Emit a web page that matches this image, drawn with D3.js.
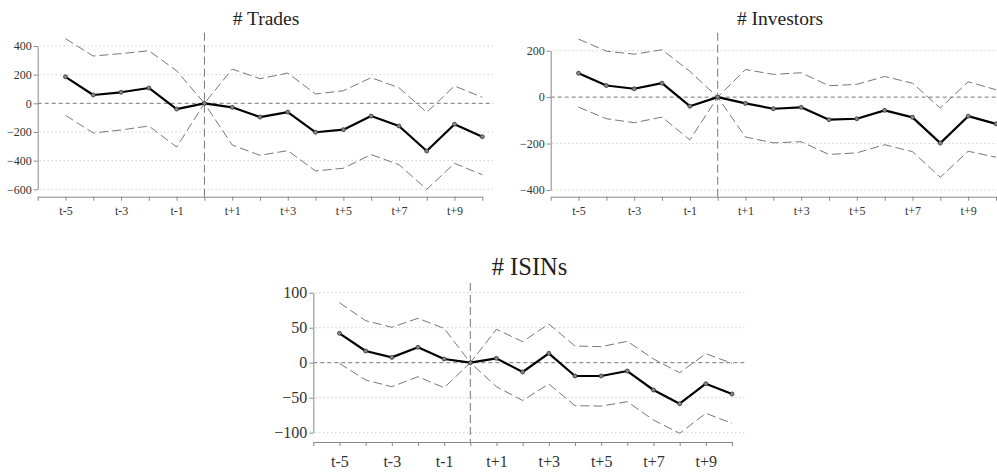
<!DOCTYPE html>
<html>
<head>
<meta charset="utf-8">
<script src="https://cdn.jsdelivr.net/npm/d3@7"></script>
<style>
  body { margin: 0; background: #fff; }
</style>
</head>
<body>
<div id="chart"></div>
<script>
// event time, t-5 .. t+10
const periods = [-5, -4, -3, -2, -1, 0, 1, 2, 3, 4, 5, 6, 7, 8, 9, 10];
const xTickValues = [-6, -5, -4, -3, -2, -1, 0, 1, 2, 3, 4, 5, 6, 7, 8, 9, 10];
const xTickLabels = { "-5": "t-5", "-3": "t-3", "-1": "t-1", "1": "t+1", "3": "t+3", "5": "t+5", "7": "t+7", "9": "t+9" };

// # Trades
const tradesMean  = [185, 58, 77, 107, -40, 0, -28, -96, -61, -202, -184, -89, -158, -333, -146, -233];
const tradesUpper = [451, 330, 347, 367, 227, 0, 239, 172, 211, 65, 88, 179, 109, -63, 121, 42];
const tradesLower = [-84, -207, -186, -158, -305, 0, -291, -363, -330, -472, -453, -358, -428, -600, -419, -498];
const tradesTicks = [400, 200, 0, -200, -400, -600];

// # Investors
const investorsMean  = [103, 50, 36, 60, -39, 0, -27, -50, -44, -97, -93, -57, -87, -198, -82, -115];
const investorsUpper = [250, 198, 185, 204, 111, 0, 119, 98, 105, 49, 55, 89, 60, -47, 66, 32];
const investorsLower = [-43, -93, -110, -86, -184, 0, -172, -197, -192, -247, -240, -205, -235, -345, -233, -259];
const investorsTicks = [200, 0, -200, -400];

// # ISINs
const isinsMean  = [42, 16.7, 7.6, 22, 5.3, 0, 6.2, -13.3, 13.4, -19, -19, -11.9, -39, -58.6, -30, -44.7];
const isinsUpper = [85.7, 60, 50.6, 63.4, 49, 0, 47.7, 30, 55.3, 23.9, 22.9, 30.6, 5.3, -14.3, 12.9, -0.9];
const isinsLower = [-1, -24.7, -34.3, -20, -35.7, 0, -34.3, -54, -30.4, -61.4, -62, -55.7, -81.9, -100.9, -72.3, -86.6];
const isinsTicks = [100, 50, 0, -50, -100];

const width = 997, height = 472;
const serif = "'Liberation Serif', 'DejaVu Serif', 'Times New Roman', serif";

const svg = d3.select("#chart").append("svg")
    .attr("width", width)
    .attr("height", height)
    .attr("viewBox", [0, 0, width, height]);

// panel layout (pixel boxes)
const panels = [
  { title: "# Trades", mean: tradesMean, upper: tradesUpper, lower: tradesLower, ticks: tradesTicks,
    x0: 37.7, x1: 482.3, gridEnd: 493, yTop: 46, yBot: 189.3, axisY: 196.7, vTop: 32.7,
    titleX: 266, titleY: 25, titleSize: 19.5, tickSize: 12, labelY: 215 },
  { title: "# Investors", mean: investorsMean, upper: investorsUpper, lower: investorsLower, ticks: investorsTicks,
    x0: 550.7, x1: 996, gridEnd: 1010, yTop: 50.7, yBot: 190, axisY: 196.7, vTop: 32.7,
    titleX: 780, titleY: 25, titleSize: 19.5, tickSize: 12, labelY: 215 },
  { title: "# ISINs", mean: isinsMean, upper: isinsUpper, lower: isinsLower, ticks: isinsTicks,
    x0: 313.3, x1: 732, gridEnd: 746, yTop: 292.7, yBot: 432.7, axisY: 442, vTop: 283,
    titleX: 529.5, titleY: 275, titleSize: 24.5, tickSize: 16, labelY: 467 }
];

panels.forEach(p => {
  const g = svg.append("g");
  const yMax = d3.max(p.ticks), yMin = d3.min(p.ticks);

  const x = d3.scaleLinear().domain([-6, 10]).range([p.x0, p.x1]);
  const y = d3.scaleLinear().domain([yMin, yMax]).range([p.yBot, p.yTop]);

  // dotted grid
  g.append("g")
    .selectAll("line")
    .data(p.ticks.filter(d => d !== 0))
    .join("line")
      .attr("x1", p.x0 + 2).attr("x2", p.gridEnd)
      .attr("y1", d => y(d)).attr("y2", d => y(d))
      .attr("stroke", "#bbb")
      .attr("stroke-width", 1)
      .attr("stroke-dasharray", "1,3");

  // zero line
  g.append("line")
    .attr("x1", p.x0).attr("x2", p.gridEnd)
    .attr("y1", y(0)).attr("y2", y(0))
    .attr("stroke", "#777")
    .attr("stroke-width", 1)
    .attr("stroke-dasharray", "4,3");

  // event line at t
  g.append("line")
    .attr("x1", x(0)).attr("x2", x(0))
    .attr("y1", p.vTop).attr("y2", p.axisY)
    .attr("stroke", "#777")
    .attr("stroke-width", 1)
    .attr("stroke-dasharray", "8,4");

  // y axis
  const yAxis = g.append("g")
    .attr("transform", `translate(${p.x0},0)`)
    .call(d3.axisLeft(y).tickValues(p.ticks).tickSize(4).tickSizeOuter(0).tickPadding(2));

  // x axis
  const xAxis = g.append("g")
    .attr("transform", `translate(0,${p.axisY})`)
    .call(d3.axisBottom(x).tickValues(xTickValues).tickSize(4).tickSizeOuter(0)
      .tickFormat(d => xTickLabels[d] || ""));

  [yAxis, xAxis].forEach(a => {
    a.attr("font-family", null);
    a.select(".domain").attr("stroke", "#888");
    a.selectAll(".tick line").attr("stroke", "#888");
    a.selectAll(".tick text")
      .attr("fill", "#333")
      .style("font-family", serif)
      .style("font-size", p.tickSize + "px");
  });
  xAxis.selectAll(".tick text")
    .attr("y", null).attr("dy", null)
    .attr("transform", `translate(0,${p.labelY - p.axisY})`);

  // confidence bands
  const line = d3.line().x((d, i) => x(periods[i])).y(d => y(d));
  [p.upper, p.lower].forEach(s => {
    g.append("path")
      .attr("d", line(s))
      .attr("fill", "none")
      .attr("stroke", "#777")
      .attr("stroke-width", 1)
      .attr("stroke-dasharray", "9,4");
  });

  // point estimates
  g.append("path")
    .attr("d", line(p.mean))
    .attr("fill", "none")
    .attr("stroke", "#000")
    .attr("stroke-width", 2.2)
    .attr("stroke-linejoin", "round");

  g.append("g")
    .selectAll("circle")
    .data(p.mean)
    .join("circle")
      .attr("cx", (d, i) => x(periods[i]))
      .attr("cy", d => y(d))
      .attr("r", 2)
      .attr("fill", "#888")
      .attr("stroke", "#333")
      .attr("stroke-width", 0.8);

  // title
  g.append("text")
    .attr("x", p.titleX)
    .attr("y", p.titleY)
    .attr("text-anchor", "middle")
    .attr("fill", "#222")
    .style("font-family", serif)
    .style("font-size", p.titleSize + "px")
    .text(p.title);
});
</script>
</body>
</html>
